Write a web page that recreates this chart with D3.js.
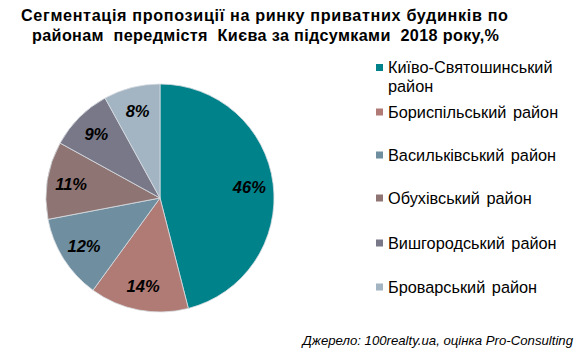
<!DOCTYPE html>
<html><head><meta charset="utf-8">
<script src="https://cdn.jsdelivr.net/npm/d3@7"></script>
<style>body{margin:0;background:#fff;}svg{display:block;font-family:"Liberation Sans",Arial,sans-serif;}</style>
</head><body>
<svg id="c" width="584" height="353"></svg>
<script>
const categories = ["Київо-Святошинський район","Бориспільський район","Васильківський район","Обухівський район","Вишгородський район","Броварський район"];
const legendLines = [["Київо-Святошинський","район"],["Бориспільський район"],["Васильківський район"],["Обухівський район"],["Вишгородський район"],["Броварський район"]];
const values = [46,14,12,11,9,8];
const colors = ["#00828A","#B07B74","#6F8E9F","#8E7573","#787889","#A3B4C2"];
const titleLines = ["Сегментація пропозиції на ринку приватних будинків по","районам  передмістя  Києва за підсумками  2018 року,%"];
const source = "Джерело: 100realty.ua, оцінка Pro-Consulting";

const svg = d3.select("#c");
const cx = 160, cy = 198, R = 114;

// title
const titleX = [21, 32], titleW = [487, 467];
svg.selectAll("text.title").data(titleLines).join("text")
  .attr("class","title")
  .attr("x",(d,i)=> titleX[i])
  .attr("y",(d,i)=> 21 + i*20)
  .attr("font-size",16.2).attr("font-weight","bold").attr("fill","#000")
  .attr("textLength",(d,i)=>titleW[i]).attr("lengthAdjust","spacing")
  .style("white-space","pre")
  .text(d=>d);

const pie = d3.pie().sort(null).value(d=>d)(values);
const arc = d3.arc().innerRadius(0).outerRadius(R);
const labelArc = d3.arc().innerRadius(90).outerRadius(90);
const g = svg.append("g").attr("transform",`translate(${cx},${cy})`);
g.selectAll("path").data(pie).join("path")
  .attr("d",arc).attr("fill",(d,i)=>colors[i])
  .attr("stroke","#d8dde2").attr("stroke-width",0.8);
g.selectAll("text").data(pie).join("text")
  .attr("transform",d=>`translate(${labelArc.centroid(d)})`)
  .attr("text-anchor","middle").attr("dy","0.36em")
  .attr("font-size",16.5).attr("font-weight","bold").attr("font-style","italic").attr("fill","#000")
  .text(d=>d.value+"%");

// legend
const legY = [67.5,112,155,198,243,287];
const lg = svg.append("g");
const items = lg.selectAll("g").data(legendLines).join("g")
  .attr("transform",(d,i)=>`translate(376,${legY[i]})`);
items.append("rect").attr("x",0).attr("y",-3.5).attr("width",7).attr("height",7)
  .attr("fill",(d,i)=>colors[i]);
items.each(function(lines){
  const t = d3.select(this).append("text").attr("x",12).attr("y",0)
    .attr("font-size",16.3).attr("fill","#000").attr("word-spacing",2);
  lines.forEach((l,j)=> t.append("tspan").attr("x",12).attr("dy", j===0 ? "0.35em" : 19).text(l));
});

svg.append("text").attr("x",573).attr("y",345).attr("text-anchor","end")
  .attr("font-size",13.2).attr("font-style","italic").attr("fill","#000").text(source);
</script>
</body></html>
